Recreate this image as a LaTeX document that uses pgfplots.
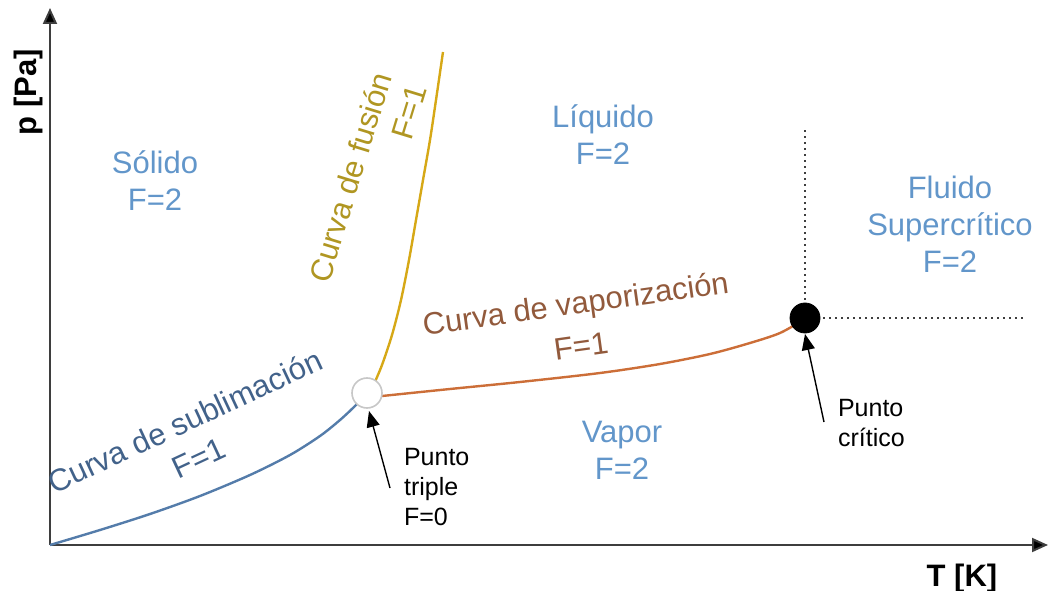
\documentclass[border=0pt]{standalone}
\usepackage{fontspec}
\setmainfont{Liberation Sans}
\usepackage{pgfplots}
\pgfplotsset{compat=1.18}
\usetikzlibrary{arrows.meta}
\definecolor{regblue}{RGB}{98,150,202}
\definecolor{subline}{RGB}{84,124,170}
\definecolor{subtext}{RGB}{66,98,138}
\definecolor{fusline}{RGB}{214,168,22}
\definecolor{fustext}{RGB}{176,150,34}
\definecolor{vapline}{RGB}{204,110,56}
\definecolor{vaptext}{RGB}{146,90,60}
\definecolor{axgray}{RGB}{62,62,62}
\tikzset{lbl/.style={font=\fontsize{15.5}{18.5}\selectfont},
  small/.style={font=\fontsize{12.5}{15}\selectfont}}
\begin{document}
\begin{tikzpicture}
\begin{axis}[
  x=0.5pt, y=0.5pt,
  xmin=0, xmax=998, ymin=0, ymax=537,
  axis lines=left,
  axis line style={draw=axgray, line width=1pt, -{Triangle[length=8pt,width=7pt,fill=black]}},
  xtick=\empty, ytick=\empty,
  clip=false,
]
% curva de sublimacion
\addplot[subline, line width=1.2pt, smooth] coordinates {
  (0,0) (50,15) (100,31) (150,49) (200,70) (240,90) (270,109) (290,125) (305,139) (314,149)};
% curva de fusion
\addplot[fusline, line width=1.2pt, smooth] coordinates {
  (324,161) (332,180) (342,210) (351,245) (359,285) (366,325) (373,365) (380,405) (386,445) (393,493)};
% curva de vaporizacion
\addplot[vapline, line width=1.2pt, smooth] coordinates {
  (332,149) (400,156) (470,163) (550,172) (610,181) (660,191) (700,202) (730,212) (753,225)};
% lineas punteadas del punto critico
\addplot[axgray, line width=1pt, dotted] coordinates {(755,227) (755,415)};
\addplot[axgray, line width=1pt, dotted] coordinates {(755,227) (973,227)};
% punto triple y punto critico
\addplot[only marks, mark=*, mark size=7.5pt, mark options={fill=white, draw=black!22, line width=0.8pt}] coordinates {(317,152)};
\addplot[only marks, mark=*, mark size=7.5pt, mark options={fill=black, draw=black}] coordinates {(755,227)};
% flechas
\draw[black, line width=0.7pt, -{Triangle[length=8pt,width=6.5pt]}] (axis cs:340,57) -- (axis cs:319,134);
\draw[black, line width=0.7pt, -{Triangle[length=8pt,width=6.5pt]}] (axis cs:774,123) -- (axis cs:755,211);
% regiones
\node[lbl, regblue, align=center] at (axis cs:105,364) {Sólido\\F=2};
\node[lbl, regblue, align=center] at (axis cs:553,410) {Líquido\\F=2};
\node[lbl, regblue, align=center] at (axis cs:572,95) {Vapor\\F=2};
\node[lbl, regblue, align=center] at (axis cs:900,321) {Fluido\\Supercrítico\\F=2};
% etiquetas de curvas
\node[lbl, subtext, rotate=25] at (axis cs:135,124) {Curva de sublimación};
\node[lbl, subtext, rotate=25] at (axis cs:149,87) {F=1};
\node[lbl, fustext, rotate=73] at (axis cs:300,368) {Curva de fusión};
\node[lbl, fustext, rotate=73] at (axis cs:359,433) {F=1};
\node[lbl, vaptext, rotate=8] at (axis cs:526,239) {Curva de vaporización};
\node[lbl, vaptext, rotate=8] at (axis cs:531,199) {F=1};
% puntos
\node[small, anchor=west, align=left] at (axis cs:347,58) {Punto\\triple\\F=0};
\node[small, anchor=west, align=left] at (axis cs:781,122) {Punto\\crítico};
% ejes
\node[font=\bfseries\fontsize{15.5}{18.5}\selectfont] at (axis cs:912,-33) {T [K]};
\node[font=\bfseries\fontsize{15.5}{18.5}\selectfont, rotate=90] at (axis cs:-22,453) {p [Pa]};
\coordinate (bl) at (axis cs:-50,-45);
\coordinate (tr) at (axis cs:1001,545);
\end{axis}
\pgfresetboundingbox
\path (bl) rectangle (tr);
\end{tikzpicture}
\end{document}
